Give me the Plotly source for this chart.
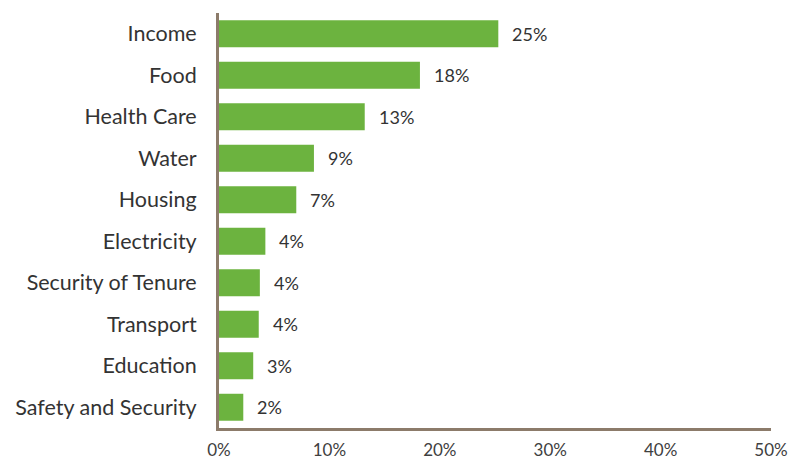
import plotly.graph_objects as go

categories = ["Income", "Food", "Health Care", "Water", "Housing", "Electricity",
              "Security of Tenure", "Transport", "Education", "Safety and Security"]
values = [0.253, 0.182, 0.132, 0.086, 0.070, 0.042, 0.037, 0.036, 0.031, 0.022]
x_ticks = [0, 0.1, 0.2, 0.3, 0.4, 0.5]
x_tick_labels = ["0%", "10%", "20%", "30%", "40%", "50%"]

FONT = "Lato, 'Open Sans', sans-serif"
AXIS_COLOR = "#8C7B6A"

fig = go.Figure()
fig.add_trace(go.Bar(
    y=categories,
    x=values,
    orientation="h",
    marker=dict(color="#6CB33F", line=dict(width=0)),
    width=0.65,
    hoverinfo="x+y",
))

for c, v in zip(categories, values):
    fig.add_annotation(
        x=v, y=c, text=f"{round(v * 100):.0f}%",
        xanchor="left", yanchor="middle", xshift=12, showarrow=False,
        font=dict(family=FONT, size=18, color="#333333"),
    )

fig.update_layout(
    width=790, height=459,
    margin=dict(l=219, r=19, t=13, b=31, pad=0),
    paper_bgcolor="white", plot_bgcolor="white",
    showlegend=False,
    font=dict(family=FONT, color="#333333"),
    bargap=0.35,
)
fig.update_xaxes(
    range=[0, 0.5], tickvals=x_ticks, ticktext=x_tick_labels,
    showgrid=False, zeroline=False, automargin=False,
    showline=True, linecolor=AXIS_COLOR, linewidth=3,
    ticks="", ticklabelstandoff=5,
    tickfont=dict(family=FONT, size=17, color="#404040"),
)
fig.update_yaxes(
    categoryorder="array", categoryarray=categories[::-1],
    showgrid=False, zeroline=False, automargin=False,
    showline=True, linecolor=AXIS_COLOR, linewidth=3,
    ticks="", ticklabelstandoff=15,
    tickfont=dict(family=FONT, size=21.5, color="#333333"),
)

fig.write_html("out.html")
